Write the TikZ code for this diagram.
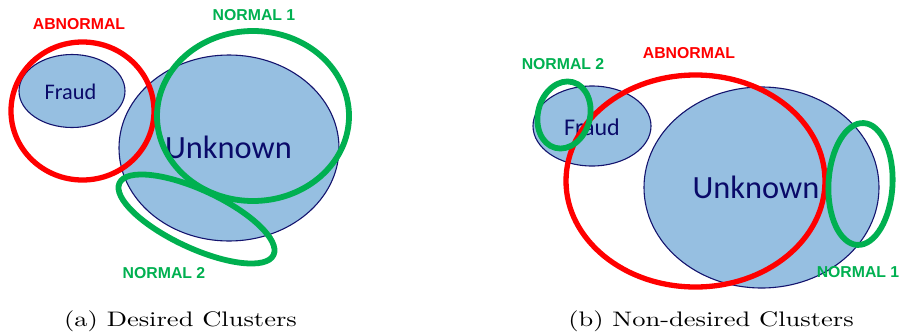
\documentclass[tikz,border=0pt]{standalone}
\usepackage{fontspec}
\newfontfamily\labfont{Liberation Sans}
\newfontfamily\calfont{Carlito}
\definecolor{cfill}{RGB}{150,191,225}
\definecolor{cline}{RGB}{20,20,110}
\definecolor{ctext}{RGB}{10,10,105}
\definecolor{cgreen}{RGB}{0,176,80}
\definecolor{cred}{RGB}{255,0,0}
\begin{document}
\begin{tikzpicture}[x=1pt,y=-1pt,
  blob/.style={fill=cfill, draw=cline, line width=1.1pt},
  redring/.style={draw=cred, line width=5.3pt},
  greenring/.style={draw=cgreen, line width=5.8pt},
  lab/.style={font=\labfont\bfseries\fontsize{15.8}{18}\selectfont, inner sep=0pt},
  redlab/.style={lab, text=cred},
  greenlab/.style={lab, text=cgreen},
  blobtext/.style={text=ctext, inner sep=0pt},
  captiontext/.style={font=\fontsize{10}{12}\selectfont, xscale=2.65, yscale=2.1, anchor=base, inner sep=0pt}]
\useasboundingbox (0,0) rectangle (902,335);

% ---------- (a) Desired Clusters ----------
\draw[blob] (72,91) ellipse [x radius=53, y radius=36.5];
\draw[blob] (229,148) ellipse [x radius=110, y radius=93];
\node[blobtext, font=\calfont\fontsize{22.3}{26}\selectfont] (fraudA) at (70.5,92) {Fraud};
\node[blobtext, font=\calfont\fontsize{32.4}{38}\selectfont] (unkA) at (228.5,147) {Unknown};
\draw[redring] (82.5,111) ellipse [x radius=71.5, y radius=69];
\draw[greenring] (253,116) ellipse [x radius=96, y radius=85];
\draw[greenring, shift={(196.5,219)}, rotate=-25] (0,0) ellipse [x radius=85, y radius=29];
\node[redlab] (abnA) at (79,24) {ABNORMAL};
\node[greenlab] (n1A) at (254,15.5) {NORMAL 1};
\node[greenlab] (n2A) at (164,273.5) {NORMAL 2};
\node[captiontext] (capA) at (180.5,326.7) {(a) Desired Clusters};

% ---------- (b) Non-desired Clusters ----------
\draw[blob] (592,126) ellipse [x radius=59, y radius=40];
\draw[blob] (761.5,187.5) ellipse [x radius=117.5, y radius=100.5];
\node[blobtext, font=\calfont\fontsize{24}{28}\selectfont] (fraudB) at (592,127.5) {Fraud};
\node[blobtext, font=\calfont\fontsize{32.4}{38}\selectfont] (unkB) at (756,187) {Unknown};
\draw[redring] (695.5,181) ellipse [x radius=129.5, y radius=106];
\draw[greenring, shift={(564,115)}, rotate=-15] (0,0) ellipse [x radius=26, y radius=34];
\draw[greenring, shift={(860.5,184)}, rotate=-3] (0,0) ellipse [x radius=32, y radius=61];
\node[redlab] (abnB) at (689,53) {ABNORMAL};
\node[greenlab] (n2B) at (563,64.5) {NORMAL 2};
\node[greenlab] (n1B) at (858,272.5) {NORMAL 1};
\node[captiontext] (capB) at (711,326.7) {(b) Non-desired Clusters};
\end{tikzpicture}
\end{document}
